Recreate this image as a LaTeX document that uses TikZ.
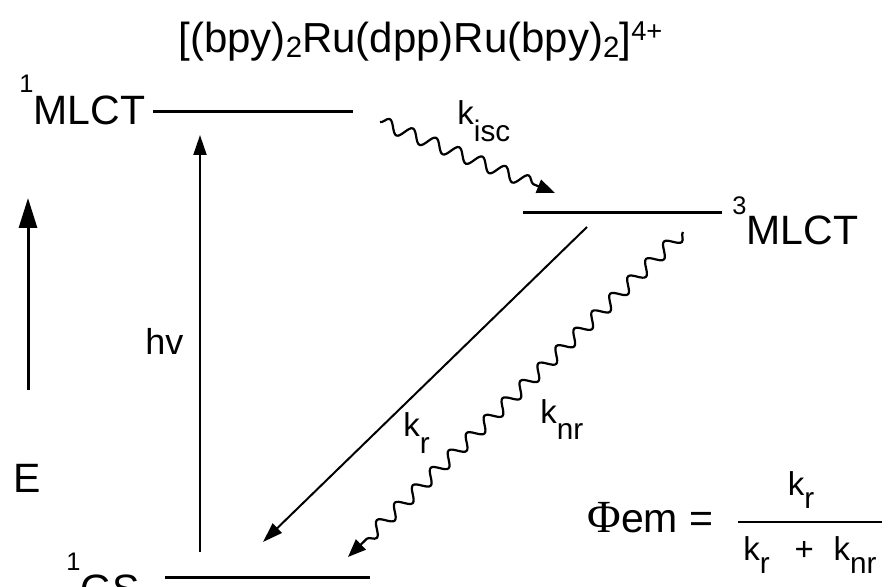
\documentclass[tikz,border=0pt]{standalone}
\usepackage{fontspec}
\setmainfont{Liberation Sans}
\newfontfamily\symfont{Liberation Serif}
\usetikzlibrary{arrows.meta,positioning,decorations.pathmorphing}
% raised or lowered index: \idx{shift}{scale}{text}
\newcommand\idx[3]{\raisebox{#1}{\scalebox{#2}{#3}}}
\tikzset{
	lvl/.style={line width=1.5pt},
	arr/.style={-{Triangle[length=10pt,width=6.5pt]},line width=1pt},
	wavy/.style={-{Triangle[length=9pt,width=7pt]},line width=1.1pt,decorate,
		decoration={snake,segment length=12.5pt,amplitude=3.2pt,post length=8pt}},
	big/.style={font=\fontsize{20.5}{22}\selectfont,inner sep=0pt,anchor=base west},
	lab/.style={font=\fontsize{16.5}{20}\selectfont,inner sep=0pt,anchor=base west}
}

\begin{document}
\begin{tikzpicture}[x=0.5pt,y=-0.5pt]
	\clip (0,0) rectangle (888,587);
	\node[big,font=\fontsize{21}{24}\selectfont] (title) at (178,53)
		{[(bpy)\idx{-0.1em}{0.7}{2}Ru(dpp)Ru(bpy)\idx{-0.1em}{0.7}{2}]\idx{0.3em}{0.65}{4+}};
	% energy levels
	\node[big] (s1) at (19,125) {\idx{0.8em}{0.62}{1}MLCT};
	\node[big] (t1) at (732,245) {\idx{0.75em}{0.62}{3}MLCT};
	\node[big] (gs) at (66,603) {\idx{0.8em}{0.62}{1}GS};
	\coordinate (s1a) at (153,112); \coordinate (s1b) at (353,112);
	\coordinate (t1a) at (523,213); \coordinate (t1b) at (722,213);
	\coordinate (gsa) at (165,577); \coordinate (gsb) at (370,577);
	\draw[lvl] (s1a) -- (s1b);
	\draw[lvl] (t1a) -- (t1b);
	\draw[lvl] (gsa) -- (gsb);
	% energy axis
	\node[big] (E) at (13,492) {E};
	\coordinate (Ea) at (28,390); \coordinate (Eb) at (28,198);
	\draw[line width=1.5pt,-{Triangle[length=15pt,width=9pt]}] (Ea) -- (Eb);
	% transitions
	\coordinate (hva) at (200,552); \coordinate (hvb) at (200,135);
	\draw[arr] (hva) -- (hvb);
	\node[lab,font=\fontsize{18}{20}\selectfont] (hv) at (145,355) {hv};
	\coordinate (isca) at (380,122); \coordinate (iscb) at (555,193);
	\draw[wavy] (isca) -- (iscb);
	\node[lab] (kisc) at (457,125) {k\idx{-0.5em}{0.9}{isc}};
	\coordinate (kra) at (587,227); \coordinate (krb) at (263,542);
	\draw[arr] (kra) -- (krb);
	\node[lab] (kr) at (403,437) {k\idx{-0.5em}{0.9}{r}};
	\coordinate (knra) at (683,232); \coordinate (knrb) at (348,557);
	\draw[wavy] (knra) -- (knrb);
	\node[lab] (knr) at (540,423) {k\idx{-0.5em}{0.9}{nr}};
	% quantum yield
	\node[big] (phi) at (587,532) {{\symfont\fontsize{23}{24}\selectfont Φ}em =};
	\node[lab,anchor=base] (num) at (801,495) {k\idx{-0.4em}{0.9}{r}};
	\node[lab,anchor=base] (den) at (810,560) {k\idx{-0.4em}{0.9}{r}\hspace{0.75em}+\hspace{0.6em}k\idx{-0.4em}{0.9}{nr}};
	\draw[line width=1pt] (738,522) -- (882,522);
\end{tikzpicture}
\end{document}
